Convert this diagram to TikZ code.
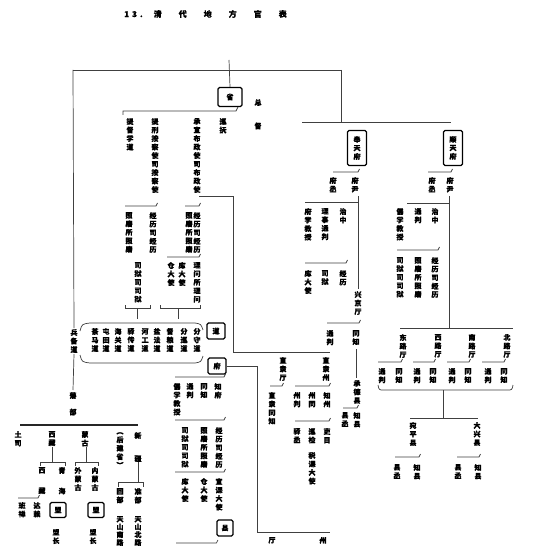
\documentclass[tikz,border=0pt]{standalone}
\usepackage{fontspec}
\newfontfamily\cjk{Noto Sans CJK SC}[BoldFeatures={FakeBold=0.8}]
\ExplSyntaxOn
\NewDocumentCommand\vt{m}
 {
  \bool_set_true:N \l_tmpa_bool
  \tl_map_inline:nn {#1}
   {
    \bool_if:NTF \l_tmpa_bool { \bool_set_false:N \l_tmpa_bool } { \\ }
    ##1
   }
 }
\ExplSyntaxOff
\newcommand\hkb[3]{\draw[ln] (#1,#3) -- (#2,#3) -- ++(1.5,-3);}
\begin{document}
\begin{tikzpicture}[x=1pt,y=-1pt,
  vt/.style={font=\cjk\bfseries\fontsize{7}{8.5}\selectfont, align=center, inner sep=0pt, anchor=north},
  ln/.style={draw=black!75, line width=0.7pt},
  bx/.style={draw=black, line width=1.1pt, rounded corners=1.5pt, inner sep=0pt,
             font=\cjk\bfseries\fontsize{7}{8.5}\selectfont, align=center},
]
\fill[white] (0,0) rectangle (537,548);
\useasboundingbox (0,0) rectangle (537,548);

% title
\node[font=\cjk\bfseries\fontsize{8}{10}\selectfont, anchor=west, inner sep=0pt] (title) at (124,14)
  {1\hspace{3pt}3\hspace{3pt}.\hspace{11pt}清\hspace{17pt}代\hspace{17pt}地\hspace{17pt}方\hspace{17pt}官\hspace{17pt}表};

% top frame
\coordinate (topL) at (73,70);
\coordinate (topR) at (341,70);
\coordinate (sTop) at (229,60);
\draw[ln] (topL) -- (topR);
\node[bx, minimum width=24pt, minimum height=19pt] (sheng) at (230,97) {省};
\draw[ln] (sTop) -- (sheng.north);
\draw[ln] (topR) -- (341,122);
\draw[ln] (302,122) -- (451,122);

% province
\node[vt] (zongdu) at (258,99) {总\\[15pt]督};
\draw[ln] (123,115) -- (123,111) -- (236,111) -- (238,107);
\node[vt] (xunfu) at (223,118) {\vt{巡抚}};
\node[vt] (bzs) at (197,118) {\vt{承宣布政使司布政使}};
\node[vt] (acs) at (155,118) {\vt{提刑按察使司按察使}};
\node[vt] (xuedao) at (130,118) {\vt{提督学道}};

\hkb{125}{156}{206}
\node[vt] (acjl) at (153,212) {\vt{经历司经历}};
\node[vt] (aczm) at (129,212) {\vt{照磨所照磨}};
\node[vt] (acsy) at (138,262) {\vt{司狱司司狱}};

\hkb{185}{199}{206}
\node[vt] (bzjl) at (197,212) {\vt{经历司经历}};
\node[vt] (bzzm) at (189,212) {\vt{照磨所照磨}};
\hkb{167}{199}{257}
\node[vt] (bzlw) at (197,262) {\vt{理问所理问}};
\node[vt] (bzku) at (182,262) {\vt{库大使}};
\node[vt] (bzcang) at (171,262) {\vt{仓大使}};

\draw[ln] (125,305) -- (125,308) -- (150,308) -- (150,305);
\draw[ln] (137,308) -- (137,319);
\draw[ln] (160,305) -- (160,308) -- (200,308) -- (200,305);
\draw[ln] (178,308) -- (178,319);

% circuits
\draw[ln] (80,331) .. controls (82,324) .. (90,323) -- (195,323) .. controls (201,324) .. (203,330);
\draw[ln] (80,355) .. controls (82,362) .. (90,363) -- (195,363) .. controls (201,362) .. (203,356);
\node[vt] (d1) at (197,328) {\vt{分守道}};
\node[vt] (d2) at (184,328) {\vt{分巡道}};
\node[vt] (d3) at (170,328) {\vt{督粮道}};
\node[vt] (d4) at (157,328) {\vt{盐法道}};
\node[vt] (d5) at (145,328) {\vt{河工道}};
\node[vt] (d6) at (131,328) {\vt{驿传道}};
\node[vt] (d7) at (118,328) {\vt{海关道}};
\node[vt] (d8) at (106,328) {\vt{屯田道}};
\node[vt] (d9) at (95,328) {\vt{茶马道}};
\node[bx, minimum width=18pt, minimum height=16pt] (dao) at (216,331) {道};

% 布政使 -> 直隶厅/州
\draw[ln] (199,196) -- (233,196) -- (233,352) -- (330,352);
\node[vt] (zlt) at (283,357) {\vt{直隶厅}};
\node[vt] (zlz) at (326,357) {\vt{直隶州}};
\hkb{270}{282}{386}
\node[vt] (zltz) at (272,392) {\vt{直隶同知}};
\hkb{295}{329}{386}
\node[vt] (zz1) at (327,392) {\vt{知州}};
\node[vt] (zz2) at (312,392) {\vt{州同}};
\node[vt] (zz3) at (297,392) {\vt{州判}};
\hkb{295}{329}{421}
\node[vt] (zz4) at (327,428) {\vt{吏目}};
\node[vt] (zz5) at (312,428) {\vt{巡检}};
\node[vt] (zz6) at (297,428) {\vt{驿丞}};
\node[vt] (zz7) at (312,452) {\vt{税课大使}};

% prefecture
\node[bx, minimum width=18pt, minimum height=16pt] (fu) at (217,366) {府};
\draw[ln] (fu.east) -- ++(31,0) |- (330,532);
\node[vt] (ting) at (272,537) {厅};
\node[vt] (zhou) at (323,537) {州};
\hkb{175}{224}{377}
\node[vt] (f1) at (218,383) {\vt{知府}};
\node[vt] (f2) at (204,383) {\vt{同知}};
\node[vt] (f3) at (190,383) {\vt{通判}};
\node[vt] (f4) at (177,383) {\vt{儒学教授}};
\hkb{175}{224}{420}
\node[vt] (f5) at (219,427) {\vt{经历司经历}};
\node[vt] (f6) at (204,427) {\vt{照磨所照磨}};
\node[vt] (f7) at (185,427) {\vt{司狱司司狱}};
\hkb{175}{224}{472}
\node[vt] (f8) at (219,478) {\vt{宣课大使}};
\node[vt] (f9) at (204,478) {\vt{仓大使}};
\node[vt] (f10) at (185,478) {\vt{库大使}};
\node[bx, minimum width=16pt, minimum height=16pt] (xian) at (225,528) {县};
\draw[ln] (176,543) -- (xian.south west |- 0,543) -- ++(1.5,-3);

% 奉天府
\node[bx, minimum width=19pt, minimum height=35pt] (ftf) at (357,148) {\vt{奉天府}};
\hkb{333}{358}{172}
\node[vt] (ft1) at (355,177) {\vt{府尹}};
\node[vt] (ft2) at (333,177) {\vt{府丞}};
\draw[ln] (358,196) -- (358,289);
\draw[ln] (305,202) -- (358,202);
\node[vt] (ft3) at (343,208) {\vt{治中}};
\node[vt] (ft4) at (325,208) {\vt{理事通判}};
\node[vt] (ft5) at (308,208) {\vt{府学教授}};
\draw[ln] (305,263) -- (346,263) -- ++(1.5,-3);
\node[vt] (ft6) at (343,270) {\vt{经历}};
\node[vt] (ft7) at (325,270) {\vt{司狱}};
\node[vt] (ft8) at (308,270) {\vt{库大使}};
\node[vt] (xjt) at (358,291) {\vt{兴京厅}};
\hkb{327}{359}{323}
\node[vt] (xj1) at (356,330) {\vt{同知}};
\node[vt] (xj2) at (330,330) {\vt{通判}};
\draw[ln] (356,349) -- (356,378);
\node[vt] (cdx) at (357,380) {\vt{承德县}};
\hkb{343}{357}{408}
\node[vt] (cd1) at (357,412) {\vt{知县}};
\node[vt] (cd2) at (345,412) {\vt{县丞}};

% 顺天府
\node[bx, minimum width=19pt, minimum height=35pt] (stf) at (453,148) {\vt{顺天府}};
\hkb{428}{451}{172}
\node[vt] (st1) at (450,177) {\vt{府尹}};
\node[vt] (st2) at (432,177) {\vt{府丞}};
\draw[ln] (449,196) -- (449,328);
\draw[ln] (407,203) -- (449,203);
\node[vt] (st3) at (435,208) {\vt{治中}};
\node[vt] (st4) at (418,208) {\vt{通判}};
\node[vt] (st5) at (400,208) {\vt{儒学教授}};
\draw[ln] (397,250) -- (438,250) -- ++(1.5,-3);
\node[vt] (st6) at (435,257) {\vt{经历司经历}};
\node[vt] (st7) at (418,257) {\vt{照磨所照磨}};
\node[vt] (st8) at (400,257) {\vt{司狱司司狱}};
\draw[ln] (400,328) -- (513,328);
\node[vt] (lt1) at (403,334) {\vt{东路厅}};
\node[vt] (lt2) at (438,334) {\vt{西路厅}};
\node[vt] (lt3) at (472,334) {\vt{南路厅}};
\node[vt] (lt4) at (507,334) {\vt{北路厅}};
\hkb{378}{401}{362}
\hkb{413}{434}{362}
\hkb{447}{469}{362}
\hkb{482}{504}{362}
\node[vt] (a1) at (382,368) {\vt{通判}};
\node[vt] (a2) at (399,368) {\vt{同知}};
\node[vt] (a3) at (417,368) {\vt{通判}};
\node[vt] (a4) at (433,368) {\vt{同知}};
\node[vt] (a5) at (452,368) {\vt{通判}};
\node[vt] (a6) at (468,368) {\vt{同知}};
\node[vt] (a7) at (488,368) {\vt{通判}};
\node[vt] (a8) at (504,368) {\vt{同知}};
\draw[ln] (378,385) .. controls (379,390) .. (384,390) -- (507,390) .. controls (512,390) .. (513,385);
\draw[ln] (443,390) -- (443,418);
\draw[ln] (410,418) -- (478,418);
\node[vt] (wpx) at (413,422) {\vt{宛平县}};
\node[vt] (dxx) at (477,422) {\vt{大兴县}};
\hkb{395}{419}{457}
\hkb{457}{479}{457}
\node[vt] (w1) at (417,464) {\vt{知县}};
\node[vt] (w2) at (397,464) {\vt{县丞}};
\node[vt] (w3) at (478,464) {\vt{知县}};
\node[vt] (w4) at (458,464) {\vt{县丞}};

% 藩部
\node[vt, fill=white, inner ysep=1pt] (bbd) at (74,328) {\vt{兵备道}};
\draw[ln] (topL) -- (bbd.north);
\draw[ln] (bbd.south) -- (73,390);
\node[vt] (fanbu) at (73,392) {藩\\[8pt]部};
\draw[line width=1.6pt, black!85] (20,425) -- (138,425);
\node[vt] (tusi) at (18,431) {\vt{土司}};
\node[vt] (xifan) at (52,431) {\vt{西藏}};
\node[vt] (menggu) at (85,431) {\vt{蒙古}};
\node[vt] (xinjiang) at (138,432) {新\\[14.5pt]疆};
\node[vt] (jiansheng) at (120,432) {\vt{︵后建省︶}};
\draw[ln] (xinjiang.south) -- (138,482);
\draw[ln] (118,487) -- (118,482) -- (143,482) -- (143,487);
\node[vt] (zhunbu) at (138,488) {\vt{准部}};
\node[vt] (huibu) at (120,488) {\vt{回部}};
\node[vt, font=\cjk\bfseries\fontsize{7}{7.8}\selectfont] (tsbl) at (138,516) {\vt{天山北路}};
\node[vt, font=\cjk\bfseries\fontsize{7}{7.8}\selectfont] (tsnl) at (120,516) {\vt{天山南路}};

\draw[ln] (52,447) -- (52,462);
\draw[ln] (40,466) -- (40,462) -- (65,462) -- (65,466);
\node[vt] (xizang) at (42,467) {西\\[12pt]藏};
\node[vt] (qinghai) at (62,467) {青\\[12pt]海};
\hkb{18}{38}{498}
\node[vt] (banchan) at (22,502) {\vt{班禅}};
\node[vt] (dalai) at (37,502) {\vt{达赖}};
\node[bx, minimum width=16pt, minimum height=15pt] (meng1) at (58,510) {盟};
\node[vt] (mz1) at (56,529) {\vt{盟长}};

\draw[ln] (86,447) -- (86,462);
\draw[ln] (75,466) -- (75,462) -- (98,462) -- (98,466);
\node[vt] (wmg) at (78,467) {\vt{外蒙古}};
\node[vt] (nmg) at (95,467) {\vt{内蒙古}};
\node[bx, minimum width=16pt, minimum height=15pt] (meng2) at (96,510) {盟};
\node[vt] (mz2) at (93,529) {\vt{盟长}};
\end{tikzpicture}
\end{document}
